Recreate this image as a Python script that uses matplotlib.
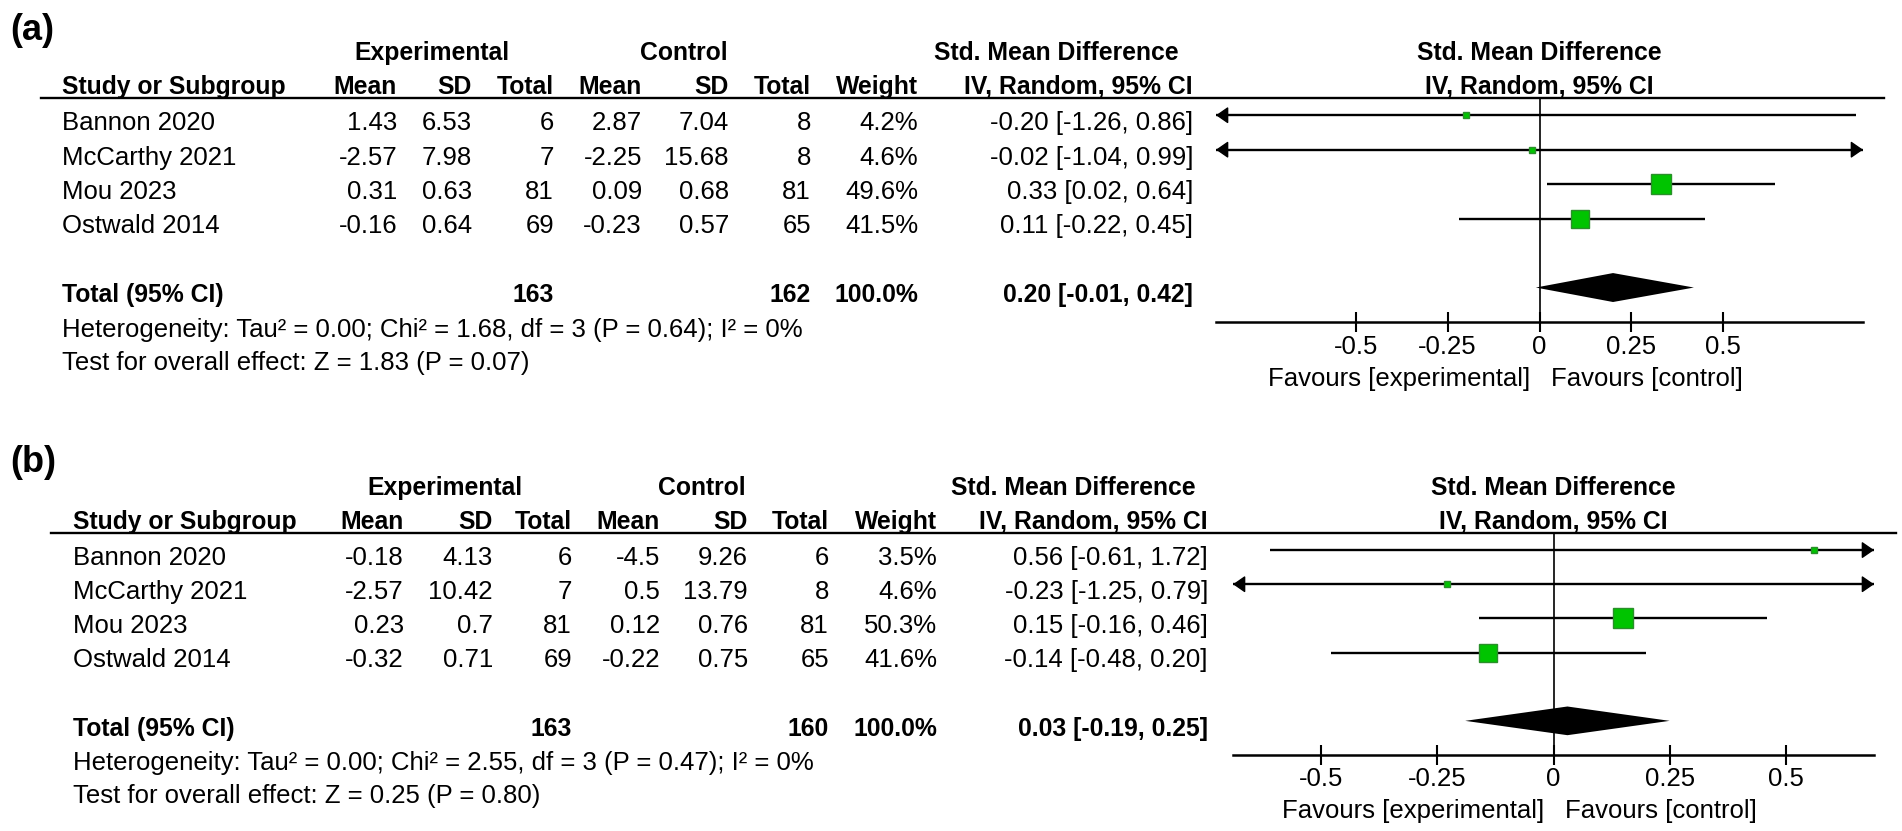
import numpy as np
import matplotlib
matplotlib.use("Agg")
import matplotlib.pyplot as plt
from matplotlib import transforms

plt.rcParams['font.family'] = ['Liberation Sans', 'DejaVu Sans']

W, H = 1902, 831
REG = 18.5
BOLD = 17.8

studies = ["Bannon 2020", "McCarthy 2021", "Mou 2023", "Ostwald 2014"]
ticks = [-0.5, -0.25, 0, 0.25, 0.5]
tick_labels = ["-0.5", "-0.25", "0", "0.25", "0.5"]

# panel (a)
a_exp_mean = [1.43, -2.57, 0.31, -0.16]
a_exp_sd = [6.53, 7.98, 0.63, 0.64]
a_exp_n = [6, 7, 81, 69]
a_ctl_mean = [2.87, -2.25, 0.09, -0.23]
a_ctl_sd = [7.04, 15.68, 0.68, 0.57]
a_ctl_n = [8, 8, 81, 65]
a_weight = [4.2, 4.6, 49.6, 41.5]
a_smd = [-0.20, -0.02, 0.33, 0.11]
a_lo = [-1.26, -1.04, 0.02, -0.22]
a_hi = [0.86, 0.99, 0.64, 0.45]
a_total = [163, 162, 0.20, -0.01, 0.42]  # n exp, n ctl, smd, lo, hi
a_het = "Heterogeneity: Tau\u00b2 = 0.00; Chi\u00b2 = 1.68, df = 3 (P = 0.64); I\u00b2 = 0%"
a_test = "Test for overall effect: Z = 1.83 (P = 0.07)"

# panel (b)
b_exp_mean = [-0.18, -2.57, 0.23, -0.32]
b_exp_sd = [4.13, 10.42, 0.7, 0.71]
b_exp_n = [6, 7, 81, 69]
b_ctl_mean = [-4.5, 0.5, 0.12, -0.22]
b_ctl_sd = [9.26, 13.79, 0.76, 0.75]
b_ctl_n = [6, 8, 81, 65]
b_weight = [3.5, 4.6, 50.3, 41.6]
b_smd = [0.56, -0.23, 0.15, -0.14]
b_lo = [-0.61, -1.25, -0.16, -0.48]
b_hi = [1.72, 0.79, 0.46, 0.20]
b_total = [163, 160, 0.03, -0.19, 0.25]
b_het = "Heterogeneity: Tau\u00b2 = 0.00; Chi\u00b2 = 2.55, df = 3 (P = 0.47); I\u00b2 = 0%"
b_test = "Test for overall effect: Z = 0.25 (P = 0.80)"

# layout in pixels (from top-left)
lay_a = dict(top=98, bottom=322, left=1216, right=1863, rng=0.88, line=(41, 1884),
             name=62, cols=[397, 472, 554, 642, 729, 811, 918], est=1193,
             exp_c=432, ctl_c=684, smd_c=1056, label_y=40, label="(a)")
lay_b = dict(top=533, bottom=755, left=1233, right=1874, rng=0.69, line=(51, 1896),
             name=73, cols=[404, 493, 572, 660, 748, 829, 937], est=1208,
             exp_c=445, ctl_c=702, smd_c=1073, label_y=472, label="(b)")

fig = plt.figure(figsize=(W / 100, H / 100), dpi=100)

BASE = 0.43  # text baseline below the row line


def ci_text(e, l, h):
    return f"{e:.2f} [{l:.2f}, {h:.2f}]"


def panel(lay, exp_mean, exp_sd, exp_n, ctl_mean, ctl_sd, ctl_n, weight, smd, lo, hi, total, het, test):
    ax = fig.add_axes([lay['left'] / W, 1 - lay['bottom'] / H,
                       (lay['right'] - lay['left']) / W, (lay['bottom'] - lay['top']) / H])
    R = lay['rng']
    ax.set_xlim(-R, R)
    ax.set_ylim(7, 0.5)
    for s in ['top', 'left', 'right']:
        ax.spines[s].set_visible(False)
    ax.spines['bottom'].set_linewidth(1.8)
    ax.set_yticks([])
    ax.set_xticks(ticks)
    ax.set_xticklabels(tick_labels)
    ax.tick_params(axis='x', direction='inout', length=14, width=1.5, pad=2, labelsize=REG)
    ax.patch.set_alpha(0)
    ax.axvline(0, color='k', lw=1.2)

    tr = transforms.blended_transform_factory(fig.transFigure, ax.transData)

    def put(xpx, y, s, ha='right', bold=False):
        ax.text(xpx / W, y, s, transform=tr, ha=ha, va='baseline',
                fontsize=BOLD if bold else REG,
                fontweight='bold' if bold else 'normal')

    # header line
    ax.plot([lay['line'][0] / W, lay['line'][1] / W], [0.5, 0.5], transform=tr,
            color='k', lw=1.7, clip_on=False)

    # headers
    h1, h2 = -0.6, 0.38
    put(lay['exp_c'], h1, "Experimental", ha='center', bold=True)
    put(lay['ctl_c'], h1, "Control", ha='center', bold=True)
    put(lay['smd_c'], h1, "Std. Mean Difference", ha='center', bold=True)
    put(lay['name'], h2, "Study or Subgroup", ha='left', bold=True)
    for x, s in zip(lay['cols'], ["Mean", "SD", "Total", "Mean", "SD", "Total", "Weight"]):
        put(x, h2, s, bold=True)
    put(lay['est'], h2, "IV, Random, 95% CI", bold=True)
    ax.text(0, h1, "Std. Mean Difference", ha='center', va='baseline',
            fontsize=BOLD, fontweight='bold', clip_on=False)
    ax.text(0, h2, "IV, Random, 95% CI", ha='center', va='baseline',
            fontsize=BOLD, fontweight='bold', clip_on=False)

    # study rows
    for i, name in enumerate(studies):
        y = i + 1
        vals = [f"{exp_mean[i]:g}", f"{exp_sd[i]:g}", f"{exp_n[i]}",
                f"{ctl_mean[i]:g}", f"{ctl_sd[i]:g}", f"{ctl_n[i]}", f"{weight[i]:.1f}%"]
        put(lay['name'], y + BASE, name, ha='left')
        for x, s in zip(lay['cols'], vals):
            put(x, y + BASE, s)
        put(lay['est'], y + BASE, ci_text(smd[i], lo[i], hi[i]))

        a, b = max(lo[i], -R), min(hi[i], R)
        ax.plot([a, b], [y, y], color='k', lw=1.7, solid_capstyle='butt', clip_on=False)
        arr = dict(arrowstyle='-|>,head_length=0.75,head_width=0.52', mutation_scale=10,
                   color='k', lw=1.0, shrinkA=0, shrinkB=0)
        if lo[i] < -R:
            ax.annotate('', xy=(-R, y), xytext=(-R + 0.1, y), arrowprops=arr, annotation_clip=False)
        if hi[i] > R:
            ax.annotate('', xy=(R, y), xytext=(R - 0.1, y), arrowprops=arr, annotation_clip=False)
        ax.plot(smd[i], y, marker='s', ms=0.72 * 2.85 * np.sqrt(weight[i]),
                mfc='#00c400', mec='#2a8f2a', mew=1, zorder=3, clip_on=False)

    # total row
    ty = 6
    put(lay['name'], ty + BASE, "Total (95% CI)", ha='left', bold=True)
    put(lay['cols'][2], ty + BASE, f"{total[0]}", bold=True)
    put(lay['cols'][5], ty + BASE, f"{total[1]}", bold=True)
    put(lay['cols'][6], ty + BASE, "100.0%", bold=True)
    put(lay['est'], ty + BASE, ci_text(total[2], total[3], total[4]), bold=True)
    ax.fill([total[3], total[2], total[4], total[2]], [ty, ty - 0.42, ty, ty + 0.42],
            color='k', lw=0, clip_on=False)

    put(lay['name'], 7 + BASE, het, ha='left')
    put(lay['name'], 8 + BASE - 0.03, test, ha='left')

    # favours labels
    ax.annotate("Favours [experimental]", xy=(0, 8.85), xytext=(-7, 0),
                textcoords='offset points', ha='right', va='baseline', fontsize=REG,
                annotation_clip=False)
    ax.annotate("Favours [control]", xy=(0, 8.85), xytext=(8, 0),
                textcoords='offset points', ha='left', va='baseline', fontsize=REG,
                annotation_clip=False)

    fig.text(10 / W, 1 - lay['label_y'] / H, lay['label'], fontsize=26,
             fontweight='bold', va='baseline')
    return ax


panel(lay_a, a_exp_mean, a_exp_sd, a_exp_n, a_ctl_mean, a_ctl_sd, a_ctl_n,
      a_weight, a_smd, a_lo, a_hi, a_total, a_het, a_test)
panel(lay_b, b_exp_mean, b_exp_sd, b_exp_n, b_ctl_mean, b_ctl_sd, b_ctl_n,
      b_weight, b_smd, b_lo, b_hi, b_total, b_het, b_test)

fig.savefig("out.png", dpi=100)
